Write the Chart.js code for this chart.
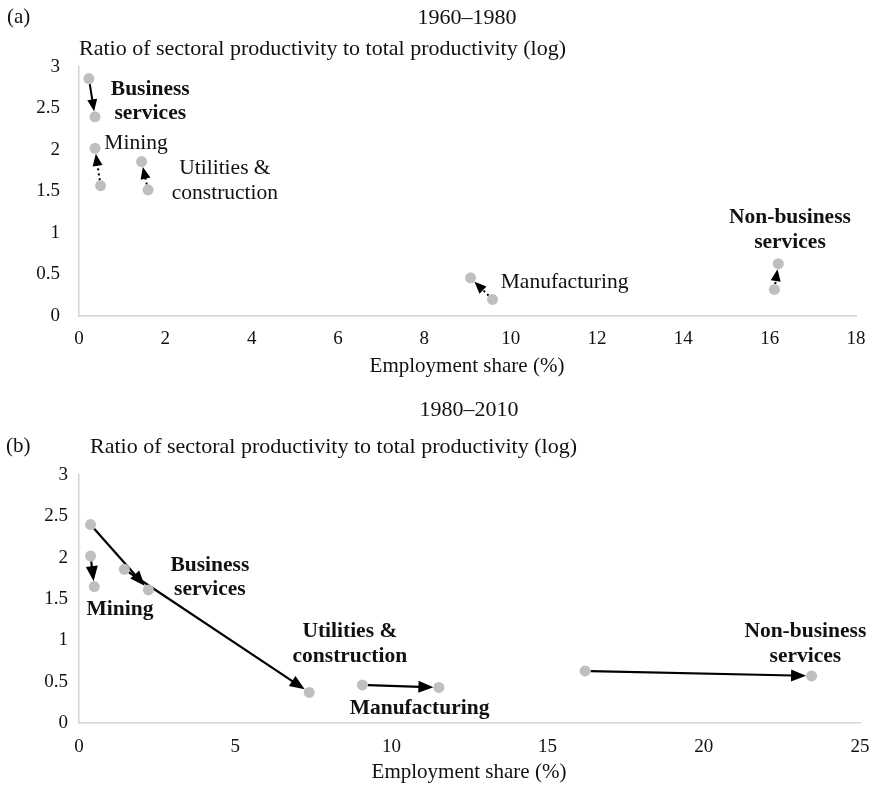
<!DOCTYPE html>
<html><head><meta charset="utf-8">
<script src="https://cdn.jsdelivr.net/npm/chart.js@4.4.0/dist/chart.umd.min.js"></script>
<style>
body{margin:0;background:#fff;width:870px;height:786px;overflow:hidden;position:relative;font-family:'Liberation Serif',serif;color:#111;}
.box{position:absolute;left:0;width:870px;}
.t{position:absolute;white-space:nowrap;line-height:1.2;transform:translateY(-50%);}
.c{transform:translate(-50%,-50%);}
</style></head><body>
<div class="box" style="top:0;height:390px"><canvas id="c1" width="870" height="390"></canvas></div>
<div class="box" style="top:390px;height:396px"><canvas id="c2" width="870" height="396"></canvas></div>
<div class="t" style="left:7px;top:17px;font-size:21px">(a)</div>
<div class="t c" style="left:467px;top:17px;font-size:22px">1960–1980</div>
<div class="t" style="left:79px;top:48px;font-size:22px">Ratio of sectoral productivity to total productivity (log)</div>
<div class="t c" style="left:467px;top:366px;font-size:21px">Employment share (%)</div>
<div class="t c" style="left:469px;top:409px;font-size:22px">1980–2010</div>
<div class="t" style="left:6px;top:446px;font-size:21px">(b)</div>
<div class="t" style="left:90px;top:446px;font-size:22px">Ratio of sectoral productivity to total productivity (log)</div>
<div class="t c" style="left:469px;top:772px;font-size:21px">Employment share (%)</div>
<script>
// ---- data ----
const sectors   = ['Business services','Mining','Utilities & construction','Manufacturing','Non-business services'];
const share1960 = [0.23, 0.50, 1.60, 9.58, 16.11];
const prod1960  = [2.86, 1.57, 1.52, 0.20, 0.32];
const share1980 = [0.37, 0.37, 1.45, 9.07, 16.20];
const prod1980  = [2.40, 2.02, 1.86, 0.46, 0.63];
const share2010 = [2.22, 0.49, 7.37, 11.52, 23.45];
const prod2010  = [1.61, 1.65, 0.37, 0.43, 0.57];
const xTicksA = [0, 2, 4, 6, 8, 10, 12, 14, 16, 18];
const xTicksB = [0, 5, 10, 15, 20, 25];
const yTicks  = [0, 0.5, 1, 1.5, 2, 2.5, 3];

// ---- styles / annotation layout ----
const dashA = [[], [2, 3], [2, 3], [2, 3], [2, 3]];
const dashB = [[], [], [], [], []];
const labelsA = [
  {lines:['Business','services'], x:1.65, y:[2.73, 2.44], bold:true},
  {lines:['Mining'], x:1.32, y:[2.08], bold:false},
  {lines:['Utilities &','construction'], x:3.38, y:[1.78, 1.48], bold:false},
  {lines:['Manufacturing'], x:11.25, y:[0.40], bold:false},
  {lines:['Non-business','services'], x:16.47, y:[1.19, 0.89], bold:true}
];
const labelsB = [
  {lines:['Business','services'], x:4.19, y:[1.91, 1.61], bold:true},
  {lines:['Mining'], x:1.31, y:[1.37], bold:true},
  {lines:['Utilities &','construction'], x:8.67, y:[1.11, 0.81], bold:true},
  {lines:['Manufacturing'], x:10.9, y:[0.18], bold:true},
  {lines:['Non-business','services'], x:23.25, y:[1.11, 0.80], bold:true}
];

const FONT = "'Liberation Serif', serif";
const pts = (xs, ys) => xs.map((v, i) => ({x: v, y: ys[i]}));

function arrowPlugin(fx, fy, tx, ty, dashes, head) {
  return {
    id: 'arrows',
    beforeDatasetsDraw(chart) {
      const {ctx, scales: {x, y}} = chart;
      ctx.save();
      ctx.strokeStyle = '#000'; ctx.fillStyle = '#000'; ctx.lineWidth = head.lw;
      for (let i = 0; i < fx.length; i++) {
        const x0 = x.getPixelForValue(fx[i]), y0 = y.getPixelForValue(fy[i]);
        const x1 = x.getPixelForValue(tx[i]), y1 = y.getPixelForValue(ty[i]);
        const dx = x1 - x0, dy = y1 - y0, L = Math.hypot(dx, dy);
        const ux = dx / L, uy = dy / L, r = 5.5, hl = head.len, hw = head.hw;
        const sx = x0 + ux * r, sy = y0 + uy * r;
        const tipx = x1 - ux * r, tipy = y1 - uy * r;
        const bx = tipx - ux * hl, by = tipy - uy * hl;
        ctx.setLineDash(dashes[i]);
        ctx.beginPath(); ctx.moveTo(sx, sy); ctx.lineTo(bx + ux * 2, by + uy * 2); ctx.stroke();
        ctx.setLineDash([]);
        ctx.beginPath();
        ctx.moveTo(tipx, tipy);
        ctx.lineTo(bx - uy * hw, by + ux * hw);
        ctx.lineTo(bx + uy * hw, by - ux * hw);
        ctx.closePath(); ctx.fill();
      }
      ctx.restore();
    }
  };
}
function labelPlugin(labels, size) {
  return {
    id: 'labels',
    afterDatasetsDraw(chart) {
      const {ctx, scales: {x, y}} = chart;
      ctx.save();
      ctx.fillStyle = '#111'; ctx.textAlign = 'center'; ctx.textBaseline = 'middle';
      labels.forEach(l => {
        ctx.font = (l.bold ? 'bold ' : '') + size + 'px ' + FONT;
        l.lines.forEach((t, j) => ctx.fillText(t, x.getPixelForValue(l.x), y.getPixelForValue(l.y[j])));
      });
      ctx.restore();
    }
  };
}

function makeChart(id, H, pad, xmax, xTicks, yPad, xPad, fx, fy, tx, ty, dashes, labels, head) {
  return new Chart(document.getElementById(id), {
    type: 'scatter',
    data: {datasets: [
      {label: 'start', data: pts(fx, fy), backgroundColor: '#bfbfbf', borderWidth: 0, pointRadius: 5.5, pointHoverRadius: 5.5},
      {label: 'end', data: pts(tx, ty), backgroundColor: '#bfbfbf', borderWidth: 0, pointRadius: 5.5, pointHoverRadius: 5.5}
    ]},
    options: {
      responsive: false, animation: false, events: [],
      layout: {padding: {left: 0, top: pad.top, right: pad.right, bottom: 0}},
      plugins: {legend: {display: false}, tooltip: {enabled: false}, title: {display: false}},
      scales: {
        x: {type: 'linear', min: 0, max: xmax,
          grid: {display: false, drawTicks: false},
          border: {display: true, color: '#d4d4d4', width: 1.5},
          afterBuildTicks: s => { s.ticks = xTicks.map(v => ({value: v})); },
          afterFit: s => { s.height = pad.bottomGap; s.paddingLeft = 0; s.paddingRight = 0; },
          ticks: {color: '#111', padding: xPad, font: {family: FONT, size: 19}, callback: v => String(v)}
        },
        y: {type: 'linear', min: 0, max: 3,
          grid: {display: false, drawTicks: false},
          border: {display: true, color: '#d4d4d4', width: 1.5},
          afterBuildTicks: s => { s.ticks = yTicks.map(v => ({value: v})); },
          afterFit: s => { s.width = 79; s.paddingTop = 0; s.paddingBottom = 0; },
          ticks: {color: '#111', padding: yPad, font: {family: FONT, size: 19}, callback: v => String(v)}
        }
      }
    },
    plugins: [arrowPlugin(fx, fy, tx, ty, dashes, head), labelPlugin(labels, 21.5)]
  });
}

makeChart('c1', 390, {top: 67, right: 14, bottomGap: 74}, 18, xTicksA, 19, 12,
  share1960, prod1960, share1980, prod1980, dashA, labelsA, {len: 12, hw: 5, lw: 2});
makeChart('c2', 396, {top: 85, right: 10, bottomGap: 63}, 25, xTicksB, 11, 13,
  share1980, prod1980, share2010, prod2010, dashB, labelsB, {len: 15, hw: 6, lw: 2.2});
</script>
</body></html>
